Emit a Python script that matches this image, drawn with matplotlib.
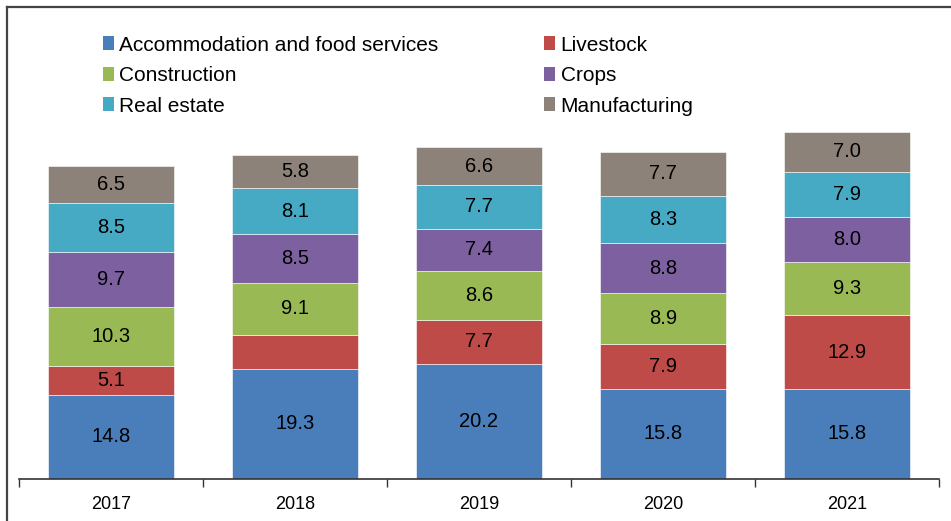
import numpy as np
import matplotlib.pyplot as plt
from matplotlib.patches import Patch

plt.rcParams['font.family'] = ['Liberation Sans', 'DejaVu Sans']

years = ["2017", "2018", "2019", "2020", "2021"]
accommodation = [14.8, 19.3, 20.2, 15.8, 15.8]
livestock = [5.1, 6.0, 7.7, 7.9, 12.9]
construction = [10.3, 9.1, 8.6, 8.9, 9.3]
crops = [9.7, 8.5, 7.4, 8.8, 8.0]
real_estate = [8.5, 8.1, 7.7, 8.3, 7.9]
manufacturing = [6.5, 5.8, 6.6, 7.7, 7.0]
# 2018 livestock segment carries no value label
livestock_labels = ["5.1", "", "7.7", "7.9", "12.9"]

series = [
    ("Accommodation and food services", accommodation, "#4a7ebb", None),
    ("Livestock", livestock, "#be4b48", livestock_labels),
    ("Construction", construction, "#98b954", None),
    ("Crops", crops, "#7d60a0", None),
    ("Real estate", real_estate, "#46aac5", None),
    ("Manufacturing", manufacturing, "#8c8279", None),
]

fig = plt.figure(figsize=(9.51, 5.21), dpi=100)
ax = fig.add_axes([19 / 951, 42 / 521, 920 / 951, 456 / 521])

x = np.arange(len(years))
bottom = np.zeros(len(years))
handles = {}
for name, vals, color, labels in series:
    vals = np.array(vals)
    bars = ax.bar(x, vals, width=0.68, bottom=bottom, color=color,
                  edgecolor="white", linewidth=0.4)
    if labels is None:
        labels = ["%.1f" % v for v in vals]
    ax.bar_label(bars, labels=labels, label_type="center", fontsize=14.5, color="black")
    handles[name] = Patch(facecolor=color)
    bottom += vals

ax.set_xlim(-0.5, len(years) - 0.5)
ax.set_ylim(0, 80)
ax.set_xticks(np.arange(-0.5, len(years), 1.0))
ax.set_xticklabels([])
ax.set_xticks(x, minor=True)
ax.set_xticklabels(years, minor=True, fontsize=13)
ax.tick_params(axis="x", which="major", length=6, width=1, color="#333333", direction="out")
ax.tick_params(axis="x", which="minor", length=0, pad=12)
ax.set_yticks([])
for s in ["top", "right", "left"]:
    ax.spines[s].set_visible(False)
ax.spines["bottom"].set_color("#333333")
ax.spines["bottom"].set_linewidth(1.2)

order = ["Accommodation and food services", "Construction", "Real estate",
         "Livestock", "Crops", "Manufacturing"]
fig.legend([handles[n] for n in order], order, ncol=2, loc="upper left",
           bbox_to_anchor=(84 / 951, 1 - 17 / 521), frameon=False, fontsize=15,
           handlelength=0.55, handleheight=0.65, handletextpad=0.25,
           columnspacing=5.05, labelspacing=0.55)

# thin frame on the left and top edges of the figure
fig.add_artist(plt.Line2D([6.5 / 951, 6.5 / 951], [0, 1 - 7 / 521], color="#444444", lw=1.6,
                          transform=fig.transFigure))
fig.add_artist(plt.Line2D([6.5 / 951, 1], [1 - 7 / 521, 1 - 7 / 521], color="#444444", lw=1.6,
                          transform=fig.transFigure))

fig.savefig("out.png", dpi=100)
